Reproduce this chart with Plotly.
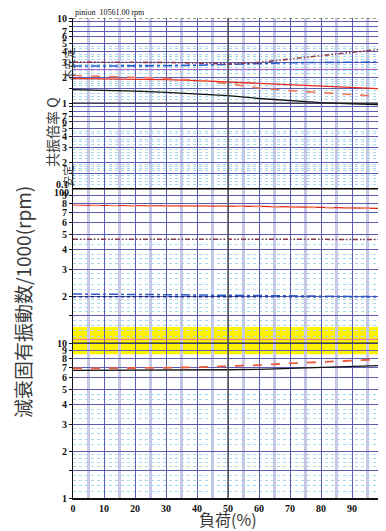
import plotly.graph_objects as go

# ---------------- data ----------------
load = [0, 10, 20, 30, 40, 50, 60, 70, 80, 90, 100]
xtick_vals = [0, 10, 20, 30, 40, 50, 60, 70, 80, 90, 100]
xtick_text = ["0", "10", "20", "30", "40", "50", "60", "70", "80", "90", "100"]

rpm = 10561.00
band_low_ratio = 0.8
band_high_ratio = 1.2

# top panel : resonance magnification Q
q_black = [1.44, 1.42, 1.38, 1.33, 1.28, 1.22, 1.13, 1.06, 1.01, 0.98, 0.955]
q_red = [1.94, 1.93, 1.91, 1.88, 1.83, 1.77, 1.70, 1.63, 1.57, 1.52, 1.47]
q_salmon = [2.11, 2.07, 2.01, 1.94, 1.85, 1.69, 1.50, 1.40, 1.32, 1.25, 1.19]
q_dotted = [3.03, 3.03, 3.03, 3.00, 2.95, 2.88, 3.00, 3.30, 3.65, 3.95, 4.29]
q_blue = [2.72, 2.72, 2.72, 2.74, 2.78, 2.85, 2.95, 2.98, 3.00, 3.02, 3.03]
q_limit = 2.48

# bottom panel : damped natural frequency / 1000 rpm
f_red = [77.4, 77.3, 77.2, 77.0, 76.8, 76.6, 76.2, 75.6, 74.9, 74.3, 73.8]
f_red_salmon = [77.2, 77.1, 77.0, 76.9, 76.7, 76.4, 76.0, 75.4, 74.8, 74.2, 73.7]
f_dotted = [46.7, 46.7, 46.7, 46.7, 46.7, 46.6, 46.6, 46.6, 46.6, 46.6, 46.6]
f_blue = [20.7, 20.7, 20.6, 20.5, 20.4, 20.3, 20.2, 20.1, 20.0, 19.95, 19.9]
f_navy = [19.9, 19.9, 19.9, 19.9, 19.9, 19.9, 19.9, 19.9, 19.9, 19.9, 19.9]
f_salmon = [6.85, 6.86, 6.88, 6.92, 6.98, 7.07, 7.20, 7.38, 7.55, 7.72, 7.87]
f_black = [6.65, 6.65, 6.66, 6.68, 6.70, 6.72, 6.76, 6.85, 6.95, 7.06, 7.16]

top_tick_vals = [0.15, 0.2, 0.3, 0.4, 0.5, 0.6, 0.7, 0.8, 0.9, 1, 1.5, 2, 3, 4, 5, 6, 7, 8, 9, 10]
top_tick_text = ["", "2", "3", "4", "5", "6", "7", "", "", "1", "", "2", "3", "4", "5", "6", "7", "", "", "10"]
bot_tick_vals = [1, 1.5, 2, 3, 4, 5, 6, 7, 8, 9, 10, 15, 20, 30, 40, 50, 60, 70, 80, 90]
bot_tick_text = ["1", "", "2", "3", "4", "5", "6", "7", "8", "9", "10", "", "2", "3", "4", "5", "6", "7", "8", "9"]

fine_steps = [1.1, 1.2, 1.3, 1.4, 1.6, 1.7, 1.8, 1.9, 2.2, 2.4, 2.6, 2.8, 3.25, 3.5, 3.75, 4.33, 4.67]
top_minor = [round(s * d, 4) for d in (0.1, 1) for s in fine_steps]
bot_minor = [round(s * d, 4) for d in (1, 10) for s in fine_steps]
x_half = [5, 15, 25, 35, 45, 55, 65, 75, 85, 95]

# ---------------- styles ----------------
GRID = "#5c5cb4"
FINE = "#a6d8ee"
LAV = "#c8c8e6"
TICKFONT = dict(family="Liberation Serif", size=10, color="#111", weight="bold")
CJK = "Noto Sans CJK JP"

fig = go.Figure()


def add(y, yaxis, color, dash="solid", width=1.3):
    fig.add_trace(go.Scatter(x=load, y=y, xaxis="x", yaxis=yaxis, mode="lines",
                             line=dict(color=color, dash=dash, width=width),
                             showlegend=False, hoverinfo="skip"))


DDOT = "5px,2px,1.5px,2px,1.5px,2px"
# top panel
add(q_blue, "y2", "#2a5ac8", "dashdot", 1.6)
add(q_dotted, "y2", "#8a3a4a", DDOT, 1.6)
add(q_black, "y2", "#111111", "solid", 1.3)
add(q_red, "y2", "#e82a1c", "solid", 1.3)
add(q_salmon, "y2", "#f2765a", "dash", 1.6)
# bottom panel
add(f_red, "y", "#e02418", "solid", 1.2)
add(f_red_salmon, "y", "#f2866a", "dash", 1.4)
add(f_dotted, "y", "#8a3a4a", DDOT, 1.5)
add(f_navy, "y", "#1c2a80", "dot", 1.4)
add(f_blue, "y", "#2a5ac8", "dashdot", 1.5)
add(f_black, "y", "#111111", "solid", 1.3)
add(f_salmon, "y", "#ee5a3c", "dash", 1.8)

shapes = [
    # +-20% band around running speed
    dict(type="rect", xref="x", yref="y", x0=0, x1=100,
         y0=rpm / 1000 * band_low_ratio, y1=rpm / 1000 * band_high_ratio,
         fillcolor="#fff200", line=dict(width=0), layer="below"),
    dict(type="line", xref="x", yref="y", x0=0, x1=100,
         y0=rpm / 1000, y1=rpm / 1000, line=dict(color="#e070b0", width=1), layer="above"),
    dict(type="line", xref="x", yref="y", x0=0, x1=100, y0=10, y1=10,
         line=dict(color="#222", width=1.2), layer="above"),
    dict(type="line", xref="x", yref="y2", x0=0, x1=100, y0=1, y1=1,
         line=dict(color="#222", width=1.2), layer="above"),
    dict(type="line", xref="x", yref="y2", x0=0, x1=100, y0=q_limit, y1=q_limit,
         line=dict(color="#b060c8", width=1), layer="above"),
    dict(type="line", xref="x", yref="paper", x0=50, x1=50, y0=0, y1=1,
         line=dict(color="#555", width=1.5), layer="above"),
    dict(type="line", xref="x", yref="y", x0=0, x1=100, y0=100, y1=100,
         line=dict(color="#000", width=3), layer="above"),
    dict(type="line", xref="x", yref="y2", x0=0, x1=100, y0=10, y1=10,
         line=dict(color="#333", width=1.2, dash="dot"), layer="above"),
]

# The page body adds an 8px offset, so the figure is 378x523 and its plot
# area lands at x 73..383, y 18..498 of the 386x531 window.
OFF = 8
PH = 480.0
PW = 310.0
def px_x(px):
    return (px - 73) / PW
def px_y(py):
    return (498 - py) / PH

annotations = [
    dict(text="pinion\u00a0\u00a0" + f"{rpm:.2f}" + " rpm", x=0, y=px_y(12.5), xref="paper", yref="paper",
         xanchor="left", yanchor="middle", showarrow=False,
         font=dict(family="Liberation Serif", size=8, color="#111")),
    dict(text="減衰固有振動数/1000(rpm)", x=px_x(22), y=px_y(302), xref="paper", yref="paper",
         textangle=-90, showarrow=False, xanchor="center", yanchor="middle",
         font=dict(family=CJK, size=19, color="#3a3a3a")),
    dict(text="共振倍率 Q", x=px_x(40), y=px_y(95), xref="paper", yref="paper",
         textangle=-90, showarrow=False, font=dict(family=CJK, size=14, color="#3a3a3a")),
    dict(text="不安定", x=px_x(58), y=px_y(46), xref="paper", yref="paper",
         textangle=-90, showarrow=False, font=dict(family=CJK, size=11, color="#3a3a3a")),
    dict(text="安定", x=px_x(58), y=px_y(163), xref="paper", yref="paper",
         textangle=-90, showarrow=False, font=dict(family=CJK, size=11, color="#3a3a3a")),
    dict(text="負荷(%)", x=0.5, y=px_y(519), xref="paper", yref="paper",
         xanchor="center", yanchor="middle",
         showarrow=False, font=dict(family=CJK, size=16, color="#3a3a3a")),
    dict(text="0.1", x=px_x(71), y=px_y(184), xref="paper", yref="paper",
         xanchor="right", yanchor="middle", showarrow=False, font=TICKFONT),
    dict(text="100", x=px_x(71), y=px_y(192), xref="paper", yref="paper",
         xanchor="right", yanchor="middle", showarrow=False, font=TICKFONT),
]

split = 310.0 / PH

fig.update_layout(
    width=386 - OFF, height=531 - OFF,
    margin=dict(l=73 - OFF, r=3, t=18 - OFF, b=33),
    paper_bgcolor="white", plot_bgcolor="white",
    showlegend=False,
    shapes=shapes, annotations=annotations,
    xaxis=dict(range=[0, 100], tickmode="array", tickvals=xtick_vals, ticktext=xtick_text,
               showgrid=True, gridcolor=GRID, gridwidth=1,
               minor=dict(tickmode="array", tickvals=x_half,
                          showgrid=True, gridcolor=LAV, gridwidth=2.5),
               showline=True, linecolor="#111", linewidth=1.5, ticks="", tickfont=TICKFONT,
               ticklabelstandoff=0,
               zeroline=False, anchor="y", automargin=False),
    yaxis=dict(type="log", range=[0, 2], domain=[0, split], tickmode="array",
               tickvals=bot_tick_vals, ticktext=bot_tick_text,
               showgrid=True, gridcolor=GRID, gridwidth=1,
               minor=dict(tickmode="array", tickvals=bot_minor, showgrid=True,
                          gridcolor=FINE, griddash="dot", gridwidth=1),
               showline=True, linecolor="#111", linewidth=1.2, mirror=True,
               ticks="outside", ticklen=3, tickcolor="#111",
               tickfont=TICKFONT, anchor="x", zeroline=False, automargin=False),
    yaxis2=dict(type="log", range=[-1, 1], domain=[split, 1], tickmode="array",
                tickvals=top_tick_vals, ticktext=top_tick_text,
                showgrid=True, gridcolor=GRID, gridwidth=1,
                minor=dict(tickmode="array", tickvals=top_minor, showgrid=True,
                           gridcolor=FINE, griddash="dot", gridwidth=1),
                showline=True, linecolor="#111", linewidth=1.2, mirror=True,
                ticks="outside", ticklen=3, tickcolor="#111",
                tickfont=TICKFONT, anchor="x", zeroline=False, automargin=False),
)

fig.write_html("out.html")
